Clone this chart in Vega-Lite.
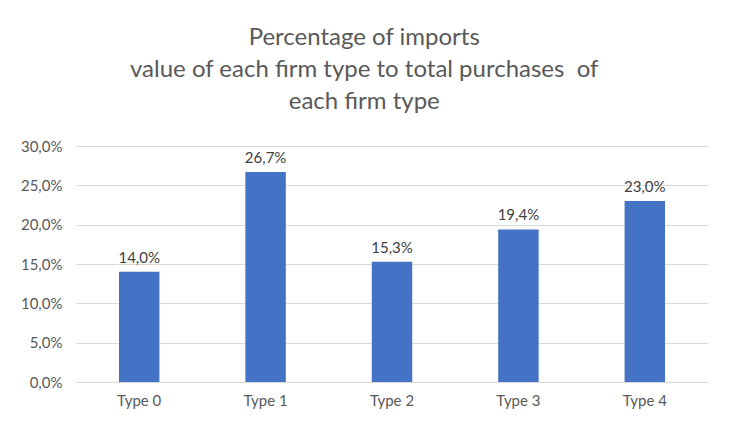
{
  "$schema": "https://vega.github.io/schema/vega-lite/v6.json",
  "width": 632,
  "height": 236,
  "padding": {"left": 20, "top": 26, "right": 15, "bottom": 10},
  "autosize": {"type": "pad"},
  "background": "white",
  "config": {
    "locale": {"number": {"decimal": ",", "thousands": ".", "grouping": [3], "currency": ["", " €"]}},
    "view": {"stroke": null},
    "font": "Lato"
  },
  "title": {
    "text": ["Percentage of imports", "value of each firm type to total purchases \u00a0of", "each firm type"],
    "fontSize": 24,
    "fontWeight": "normal",
    "color": "#595959",
    "lineHeight": 32,
    "anchor": "middle",
    "frame": "bounds",
    "offset": 25,
    "font": "Lato"
  },
  "data": {
    "values": [
      {"type": "Type 0", "value": 0.140},
      {"type": "Type 1", "value": 0.267},
      {"type": "Type 2", "value": 0.153},
      {"type": "Type 3", "value": 0.194},
      {"type": "Type 4", "value": 0.230}
    ]
  },
  "encoding": {
    "x": {
      "field": "type", "type": "nominal", "sort": null,
      "scale": {"paddingInner": 0.68, "paddingOuter": 0.34},
      "axis": {"title": null, "labelAngle": 0, "ticks": false, "domainColor": "#d9d9d9", "labelColor": "#595959", "labelFontSize": 15, "labelPadding": 11, "labelFont": "Lato"}
    },
    "y": {
      "field": "value", "type": "quantitative",
      "scale": {"domain": [0, 0.3]},
      "axis": {"title": null, "format": ".1%", "values": [0, 0.05, 0.1, 0.15, 0.2, 0.25, 0.3], "labelOverlap": false, "ticks": false, "domain": false, "gridColor": "#d9d9d9", "labelColor": "#595959", "labelFontSize": 15, "labelPadding": 14, "labelFont": "Lato"}
    }
  },
  "layer": [
    {"mark": {"type": "bar", "color": "#4472C4"}},
    {"mark": {"type": "text", "dy": -14, "fontSize": 15, "color": "#404040", "font": "Lato"},
     "encoding": {"text": {"field": "value", "type": "quantitative", "format": ".1%"}}}
  ]
}
